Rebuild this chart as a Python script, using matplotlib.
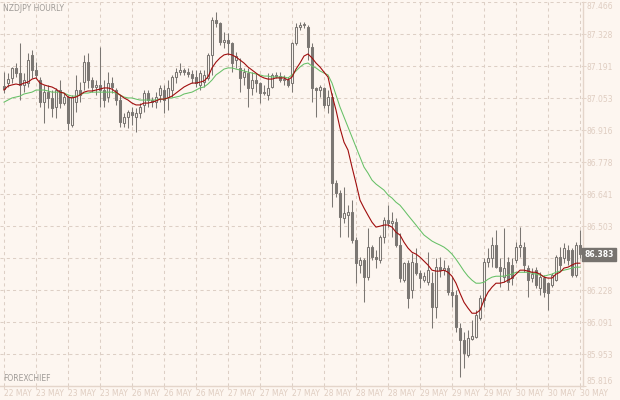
"""
NZDJPY hourly candlestick chart, 22 May - 30 May, with two moving averages.
"""

import matplotlib
matplotlib.use("Agg")
import matplotlib.pyplot as plt
import numpy as np

# OHLC, one bar per hour, oldest first
open_ = [
    87.106, 87.119, 87.141, 87.184, 87.162, 87.111, 87.119, 87.240, 87.175, 87.132,
    87.037, 87.080, 87.055, 87.016, 87.089, 87.033, 87.059, 86.938, 87.037, 87.089,
    87.123, 87.209, 87.132, 87.102, 87.111, 87.089, 87.059, 87.119, 87.089, 87.046,
    86.947, 86.973, 86.994, 86.973, 86.990, 87.025, 87.076, 87.046, 87.037, 87.068,
    87.089, 87.059, 87.089, 87.145, 87.166, 87.175, 87.166, 87.158, 87.145, 87.111,
    87.123, 87.141, 87.240, 87.390, 87.377, 87.295, 87.304, 87.291, 87.218, 87.184,
    87.145, 87.162, 87.098, 87.132, 87.119, 87.076, 87.068, 87.102, 87.154, 87.149,
    87.132, 87.132, 87.119, 87.291, 87.360, 87.369, 87.360, 87.274, 87.098, 87.089,
    87.098, 87.025, 87.059, 86.689, 86.646, 86.539, 86.551, 86.564, 86.444, 86.337,
    86.358, 86.285, 86.414, 86.371, 86.358, 86.457, 86.530, 86.517, 86.521, 86.423,
    86.272, 86.345, 86.229, 86.345, 86.302, 86.272, 86.263, 86.259, 86.156, 86.328,
    86.315, 86.324, 86.220, 86.208, 86.066, 86.014, 85.950, 86.018, 86.027, 86.109,
    86.186, 86.349, 86.367, 86.423, 86.328, 86.285, 86.349, 86.337, 86.358, 86.414,
    86.414, 86.324, 86.281, 86.315, 86.238, 86.281, 86.259, 86.251, 86.272, 86.371,
    86.367, 86.401, 86.401, 86.294, 86.423,
]
high = [
    87.166, 87.162, 87.188, 87.205, 87.291, 87.162, 87.248, 87.261, 87.209, 87.145,
    87.111, 87.111, 87.089, 87.098, 87.132, 87.076, 87.068, 87.068, 87.154, 87.123,
    87.240, 87.248, 87.145, 87.132, 87.274, 87.132, 87.166, 87.145, 87.098, 87.068,
    86.990, 87.003, 87.016, 87.012, 87.033, 87.089, 87.089, 87.059, 87.080, 87.111,
    87.111, 87.132, 87.154, 87.184, 87.205, 87.184, 87.184, 87.175, 87.175, 87.175,
    87.175, 87.248, 87.403, 87.424, 87.381, 87.338, 87.334, 87.295, 87.252, 87.227,
    87.184, 87.184, 87.166, 87.162, 87.123, 87.111, 87.162, 87.162, 87.166, 87.166,
    87.154, 87.145, 87.295, 87.377, 87.381, 87.381, 87.369, 87.291, 87.102, 87.111,
    87.102, 87.089, 87.076, 86.702, 86.659, 86.672, 86.594, 86.616, 86.457, 86.371,
    86.367, 86.496, 86.423, 86.401, 86.466, 86.543, 86.594, 86.564, 86.539, 86.474,
    86.349, 86.358, 86.388, 86.410, 86.315, 86.306, 86.392, 86.306, 86.367, 86.371,
    86.358, 86.337, 86.285, 86.229, 86.087, 86.048, 86.057, 86.100, 86.143, 86.208,
    86.367, 86.410, 86.457, 86.487, 86.367, 86.496, 86.371, 86.367, 86.435, 86.500,
    86.435, 86.337, 86.324, 86.328, 86.306, 86.294, 86.263, 86.302, 86.380, 86.414,
    86.431, 86.423, 86.410, 86.435, 86.487,
]
low = [
    87.076, 87.102, 87.119, 87.145, 87.046, 87.080, 87.102, 87.141, 87.141, 87.016,
    86.947, 87.012, 86.973, 86.969, 87.012, 87.025, 86.917, 86.930, 86.994, 87.037,
    87.089, 87.098, 87.080, 87.068, 87.016, 87.016, 87.037, 87.076, 87.025, 86.930,
    86.930, 86.926, 86.938, 86.908, 86.969, 86.994, 87.016, 87.016, 87.012, 87.037,
    86.990, 87.003, 87.059, 87.119, 87.154, 87.154, 87.145, 87.119, 87.102, 87.089,
    87.102, 87.132, 87.154, 87.360, 87.282, 87.270, 87.240, 87.166, 87.184, 87.080,
    87.111, 87.016, 87.068, 87.080, 87.033, 87.068, 87.046, 87.098, 87.141, 87.123,
    87.111, 87.102, 87.080, 87.282, 87.347, 87.356, 87.218, 87.037, 86.973, 87.059,
    87.012, 86.990, 86.586, 86.629, 86.457, 86.517, 86.457, 86.431, 86.259, 86.302,
    86.177, 86.272, 86.358, 86.324, 86.345, 86.431, 86.500, 86.457, 86.414, 86.263,
    86.263, 86.152, 86.195, 86.294, 86.238, 86.263, 86.251, 86.066, 86.109, 86.285,
    86.294, 86.208, 86.156, 86.048, 85.855, 85.894, 85.941, 86.014, 86.023, 86.100,
    86.156, 86.328, 86.328, 86.324, 86.242, 86.263, 86.229, 86.251, 86.345, 86.371,
    86.306, 86.199, 86.263, 86.238, 86.208, 86.199, 86.143, 86.242, 86.268, 86.315,
    86.345, 86.337, 86.285, 86.285, 86.367,
]
close = [
    87.093, 87.136, 87.184, 87.162, 87.111, 87.132, 87.218, 87.175, 87.154, 87.037,
    87.080, 87.055, 87.012, 87.089, 87.033, 87.059, 86.947, 87.059, 87.089, 87.068,
    87.209, 87.132, 87.102, 87.111, 87.089, 87.046, 87.119, 87.102, 87.046, 86.951,
    86.973, 86.994, 86.981, 86.990, 87.016, 87.076, 87.046, 87.037, 87.059, 87.098,
    87.046, 87.098, 87.145, 87.166, 87.175, 87.166, 87.158, 87.141, 87.119, 87.162,
    87.154, 87.240, 87.390, 87.377, 87.295, 87.304, 87.291, 87.205, 87.235, 87.141,
    87.166, 87.098, 87.132, 87.119, 87.076, 87.080, 87.098, 87.154, 87.149, 87.132,
    87.136, 87.111, 87.291, 87.360, 87.369, 87.373, 87.274, 87.098, 87.089, 87.102,
    87.025, 87.059, 86.689, 86.646, 86.543, 86.560, 86.564, 86.444, 86.345, 86.358,
    86.285, 86.414, 86.371, 86.362, 86.457, 86.530, 86.517, 86.526, 86.423, 86.281,
    86.345, 86.195, 86.349, 86.302, 86.281, 86.289, 86.315, 86.156, 86.328, 86.315,
    86.324, 86.220, 86.208, 86.070, 86.014, 85.958, 86.023, 86.031, 86.122, 86.195,
    86.349, 86.367, 86.423, 86.328, 86.311, 86.324, 86.263, 86.281, 86.414, 86.423,
    86.337, 86.272, 86.298, 86.251, 86.285, 86.220, 86.216, 86.294, 86.371, 86.337,
    86.410, 86.358, 86.294, 86.423, 86.383,
]

# moving averages as drawn on the chart (red = fast, green = slow)
ma_fast = [
    87.089, 87.106, 87.111, 87.115, 87.111, 87.119, 87.123, 87.136, 87.141, 87.119,
    87.111, 87.106, 87.102, 87.093, 87.080, 87.076, 87.059, 87.055, 87.059, 87.068,
    87.080, 87.085, 87.085, 87.089, 87.093, 87.098, 87.098, 87.093, 87.080, 87.068,
    87.055, 87.046, 87.033, 87.025, 87.025, 87.033, 87.033, 87.037, 87.042, 87.050,
    87.050, 87.055, 87.063, 87.076, 87.089, 87.102, 87.111, 87.119, 87.119, 87.123,
    87.128, 87.145, 87.184, 87.209, 87.227, 87.240, 87.244, 87.240, 87.231, 87.218,
    87.205, 87.188, 87.175, 87.162, 87.149, 87.141, 87.136, 87.136, 87.141, 87.141,
    87.141, 87.132, 87.145, 87.179, 87.205, 87.235, 87.244, 87.227, 87.205, 87.188,
    87.166, 87.145, 87.068, 87.003, 86.926, 86.865, 86.831, 86.758, 86.689, 86.616,
    86.582, 86.551, 86.521, 86.500, 86.504, 86.509, 86.509, 86.500, 86.478, 86.466,
    86.435, 86.410, 86.392, 86.384, 86.371, 86.354, 86.337, 86.315, 86.311, 86.311,
    86.315, 86.306, 86.289, 86.259, 86.216, 86.177, 86.152, 86.130, 86.130, 86.143,
    86.186, 86.220, 86.242, 86.259, 86.259, 86.263, 86.272, 86.281, 86.298, 86.315,
    86.315, 86.311, 86.306, 86.306, 86.298, 86.285, 86.281, 86.281, 86.298, 86.306,
    86.324, 86.328, 86.337, 86.345, 86.345,
]
ma_slow = [
    87.037, 87.046, 87.055, 87.059, 87.063, 87.072, 87.076, 87.080, 87.089, 87.089,
    87.089, 87.085, 87.080, 87.080, 87.080, 87.076, 87.068, 87.063, 87.063, 87.068,
    87.076, 87.076, 87.080, 87.080, 87.080, 87.080, 87.080, 87.080, 87.076, 87.068,
    87.059, 87.055, 87.055, 87.050, 87.046, 87.046, 87.046, 87.046, 87.046, 87.050,
    87.050, 87.055, 87.055, 87.059, 87.063, 87.072, 87.076, 87.080, 87.089, 87.098,
    87.102, 87.115, 87.132, 87.154, 87.166, 87.179, 87.184, 87.184, 87.179, 87.175,
    87.171, 87.166, 87.162, 87.158, 87.154, 87.149, 87.149, 87.145, 87.145, 87.145,
    87.145, 87.141, 87.154, 87.171, 87.188, 87.201, 87.205, 87.192, 87.184, 87.171,
    87.162, 87.154, 87.119, 87.068, 87.016, 86.973, 86.930, 86.887, 86.844, 86.801,
    86.758, 86.732, 86.702, 86.685, 86.672, 86.659, 86.638, 86.625, 86.607, 86.594,
    86.573, 86.551, 86.530, 86.509, 86.487, 86.466, 86.453, 86.440, 86.431, 86.423,
    86.414, 86.401, 86.384, 86.362, 86.337, 86.311, 86.289, 86.272, 86.259, 86.259,
    86.263, 86.276, 86.285, 86.289, 86.289, 86.289, 86.294, 86.298, 86.306, 86.306,
    86.306, 86.306, 86.302, 86.298, 86.294, 86.289, 86.294, 86.298, 86.306, 86.311,
    86.315, 86.319, 86.324, 86.328, 86.328,
]

price_ticks = [87.466, 87.3285, 87.191, 87.0535, 86.916, 86.7785, 86.641,
               86.5035, 86.366, 86.2285, 86.091, 85.9535, 85.816]
price_labels = ['87.466', '87.328', '87.191', '87.053', '86.916', '86.778', '86.641',
                '86.503', '', '86.228', '86.091', '85.953', '85.816']
date_labels = ['22 MAY', '23 MAY', '23 MAY', '23 MAY', '26 MAY', '26 MAY', '26 MAY',
               '27 MAY', '27 MAY', '27 MAY', '28 MAY', '28 MAY', '28 MAY', '29 MAY',
               '29 MAY', '29 MAY', '30 MAY', '30 MAY', '30 MAY']
last_price = '86.383'

BG = '#fdf6f0'
CANDLE = '#7b7773'
GRID = '#ddcfc5'
AXIS = '#e4d5ca'
LABEL = '#dfcdc1'


def draw_candles(ax, o, h, l, c):
    """Wicks first, then bodies on top: bear bodies filled, bull bodies hollow."""
    x = np.arange(len(o))
    o, h, l, c = map(np.asarray, (o, h, l, c))
    ax.vlines(x, l, h, colors=CANDLE, linewidth=0.75, zorder=3)
    bottom = np.minimum(o, c)
    height = np.maximum(np.abs(c - o), 0.0015)
    bull = c >= o
    face = [BG if b else CANDLE for b in bull]
    ax.bar(x, height, bottom=bottom, width=0.5, color=face,
           edgecolor=CANDLE, linewidth=0.75, zorder=4)


fig = plt.figure(figsize=(6.2, 4.0), dpi=100)
fig.patch.set_facecolor(BG)
ax = fig.add_axes([0.0, 13.7 / 400, 583 / 620, 384 / 400])
ax.set_facecolor(BG)

draw_candles(ax, open_, high, low, close)
x = np.arange(len(close))
ax.plot(x, ma_slow, color='#66c066', linewidth=0.75, zorder=5)
ax.plot(x, ma_fast, color='#a00d0d', linewidth=0.8, zorder=6)

ax.set_xlim(-1, 144.75)
ax.set_ylim(85.816, 87.466)

ax.yaxis.tick_right()
ax.set_yticks(price_ticks)
ax.set_yticklabels(price_labels)
ax.set_xticks(np.arange(0, len(close), 8))
ax.set_xticklabels(date_labels)
for lab in ax.get_xticklabels():
    lab.set_ha('left')
ylabs = ax.get_yticklabels()
ylabs[0].set_va('top')
ylabs[-1].set_va('bottom')
ax.tick_params(axis='both', direction='out', length=2, width=0.75, color=AXIS,
               labelcolor=LABEL, labelsize=5.5, pad=0.5)
ax.tick_params(axis='x', pad=0.3)

ax.grid(True, linestyle=(0, (3, 3)), color=GRID, linewidth=0.75, zorder=0)
for side in ('left', 'top'):
    ax.spines[side].set_visible(False)
for side in ('right', 'bottom'):
    ax.spines[side].set_color(AXIS)
    ax.spines[side].set_linewidth(1.0)

ax.text(0.006, 0.995, 'NZDJPY HOURLY', transform=ax.transAxes, ha='left', va='top',
        fontsize=5.5, color='#9e9a96')
ax.text(0.006, 0.008, 'FOREXCHIEF', transform=ax.transAxes, ha='left', va='bottom',
        fontsize=5.5, color='#9e9a96')

# current price tag on the price scale
ax.annotate(last_price, xy=(1.0, close[-1]), xycoords=('axes fraction', 'data'),
            xytext=(1, 0), textcoords='offset points', ha='left', va='center',
            fontsize=5.5, color='white', fontweight='bold', zorder=10,
            bbox=dict(boxstyle='square,pad=0.25', facecolor='#77736f', edgecolor='#77736f'),
            annotation_clip=False)

fig.savefig('out.png', dpi=100, facecolor=BG)
